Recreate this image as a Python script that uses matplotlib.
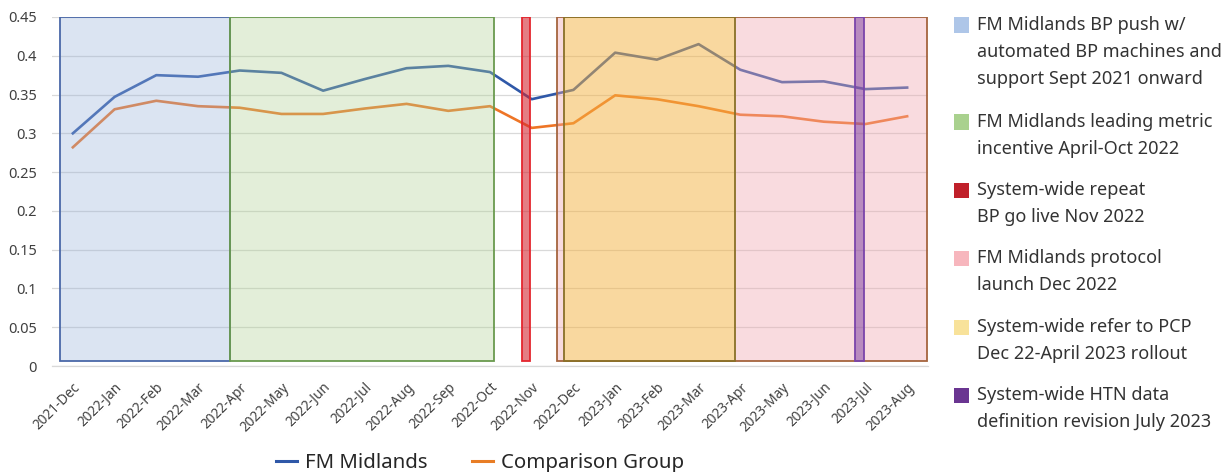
import matplotlib
matplotlib.use("Agg")
import matplotlib.pyplot as plt
from matplotlib.patches import Rectangle
from matplotlib.lines import Line2D

# Monthly series
months = ["2021-Dec", "2022-Jan", "2022-Feb", "2022-Mar", "2022-Apr", "2022-May",
          "2022-Jun", "2022-Jul", "2022-Aug", "2022-Sep", "2022-Oct", "2022-Nov",
          "2022-Dec", "2023-Jan", "2023-Feb", "2023-Mar", "2023-Apr", "2023-May",
          "2023-Jun", "2023-Jul", "2023-Aug"]
fm_midlands = [0.300, 0.347, 0.375, 0.373, 0.381, 0.378, 0.355, 0.370, 0.384, 0.387,
               0.379, 0.344, 0.356, 0.404, 0.395, 0.415, 0.382, 0.366, 0.367, 0.357, 0.359]
comparison = [0.282, 0.331, 0.342, 0.335, 0.333, 0.325, 0.325, 0.332, 0.338, 0.329,
              0.335, 0.307, 0.313, 0.349, 0.344, 0.335, 0.324, 0.322, 0.315, 0.312, 0.322]

# Initiative periods, in month-index units (start, end)
period_bp_push = (-0.32, 3.76)
period_incentive = (3.76, 10.09)
period_repeat_bp = (10.76, 10.96)
period_protocol = (11.60, 20.48)
period_refer_pcp = (11.77, 15.87)
period_htn = (18.74, 18.96)

period_labels = [
    ["FM Midlands BP push w/", "automated BP machines and", "support Sept 2021 onward"],
    ["FM Midlands leading metric", "incentive April-Oct 2022"],
    ["System-wide repeat", "BP go live Nov 2022"],
    ["FM Midlands protocol", "launch Dec 2022"],
    ["System-wide refer to PCP", "Dec 22-April 2023 rollout"],
    ["System-wide HTN data", "definition revision July 2023"],
]
key_colors = ["#aec6e8", "#a9d18e", "#c0202a", "#f7b6bd", "#f8e29a", "#6a3591"]

plt.rcParams["font.family"] = ["Noto Sans", "DejaVu Sans"]

W, H = 1223, 472
fig = plt.figure(figsize=(W / 100, H / 100), dpi=100)
ax = fig.add_axes([52 / W, 1 - 366 / H, (928 - 52) / W, (366 - 17) / H])

x = list(range(len(months)))
ax.plot(x, fm_midlands, color="#2f58a8", lw=1.9, zorder=2, solid_joinstyle="round")
ax.plot(x, comparison, color="#ee7526", lw=1.9, zorder=2, solid_joinstyle="round")

band_bottom, band_top = 0.006, 0.45


def band(span, face, alpha, edge, z, fill_spans=None):
    s, e = span
    for fs, fe in (fill_spans or [span]):
        ax.add_patch(Rectangle((fs, band_bottom), fe - fs, band_top - band_bottom,
                               facecolor=face, alpha=alpha, edgecolor="none", zorder=z))
    ax.add_patch(Rectangle((s, band_bottom), e - s, band_top - band_bottom,
                           facecolor="none", edgecolor=edge, lw=1.3, zorder=z + 0.1))


band(period_bp_push, (152 / 255, 178 / 255, 218 / 255), 0.35, "#4a68a8", 3)
band(period_incentive, (175 / 255, 209 / 255, 146 / 255), 0.35, "#6a9a4e", 3)
band(period_repeat_bp, (210 / 255, 40 / 255, 50 / 255), 0.6, "#e4262e", 3)
band(period_protocol, (242 / 255, 167 / 255, 175 / 255), 0.4, "#a5643e", 3,
     fill_spans=[(period_protocol[0], period_refer_pcp[0]),
                 (period_refer_pcp[1], period_protocol[1])])
band(period_refer_pcp, (245 / 255, 179 / 255, 65 / 255), 0.5, "#8a7028", 3.5)
band(period_htn, (120 / 255, 60 / 255, 160 / 255), 0.5, "#7a45aa", 4)

ax.set_xlim(-0.5, len(months) - 0.5)
ax.set_ylim(0, 0.45)
ax.set_yticks([0, 0.05, 0.1, 0.15, 0.2, 0.25, 0.3, 0.35, 0.4, 0.45])
ax.set_yticklabels(["0", "0.05", "0.1", "0.15", "0.2", "0.25", "0.3", "0.35", "0.4", "0.45"])
ax.set_xticks(x)
ax.set_xticklabels(months, rotation=45, ha="right", rotation_mode="anchor")
ax.tick_params(axis="both", length=0, labelsize=9.8, labelcolor="#404040")
ax.tick_params(axis="y", pad=11, labelsize=10.5)
ax.tick_params(axis="x", pad=10)
ax.yaxis.grid(True, color="#d9d9d9", lw=0.9, zorder=0)
ax.set_axisbelow(True)
for side in ["top", "right", "left"]:
    ax.spines[side].set_visible(False)
ax.spines["bottom"].set_color("#d9d9d9")
ax.spines["bottom"].set_linewidth(0.9)

# Series key along the bottom
handles = [Line2D([], [], color="#2f58a8", lw=2.2), Line2D([], [], color="#e87d25", lw=2.2)]
fig.legend(handles, ["FM Midlands", "Comparison Group"], loc="center",
           bbox_to_anchor=(480 / W, 1 - 463 / H), ncol=2, frameon=False,
           fontsize=14.7, handlelength=1.0, handletextpad=0.4, columnspacing=2.2,
           labelcolor="#262626")

# Initiative key on the right
first_line_y = [25, 122, 190, 258, 327, 395]
line_step = 26.8
for lines, col, y0 in zip(period_labels, key_colors, first_line_y):
    fig.patches.append(Rectangle((954 / W, 1 - (y0 + 7.5) / H), 15 / W, 15 / H,
                                 facecolor=col, edgecolor="none",
                                 transform=fig.transFigure, figure=fig))
    for k, txt in enumerate(lines):
        fig.text(977 / W, 1 - (y0 + k * line_step) / H, txt, fontsize=13,
                 color="#333333", va="center", ha="left")

fig.savefig("out.png", dpi=100)
